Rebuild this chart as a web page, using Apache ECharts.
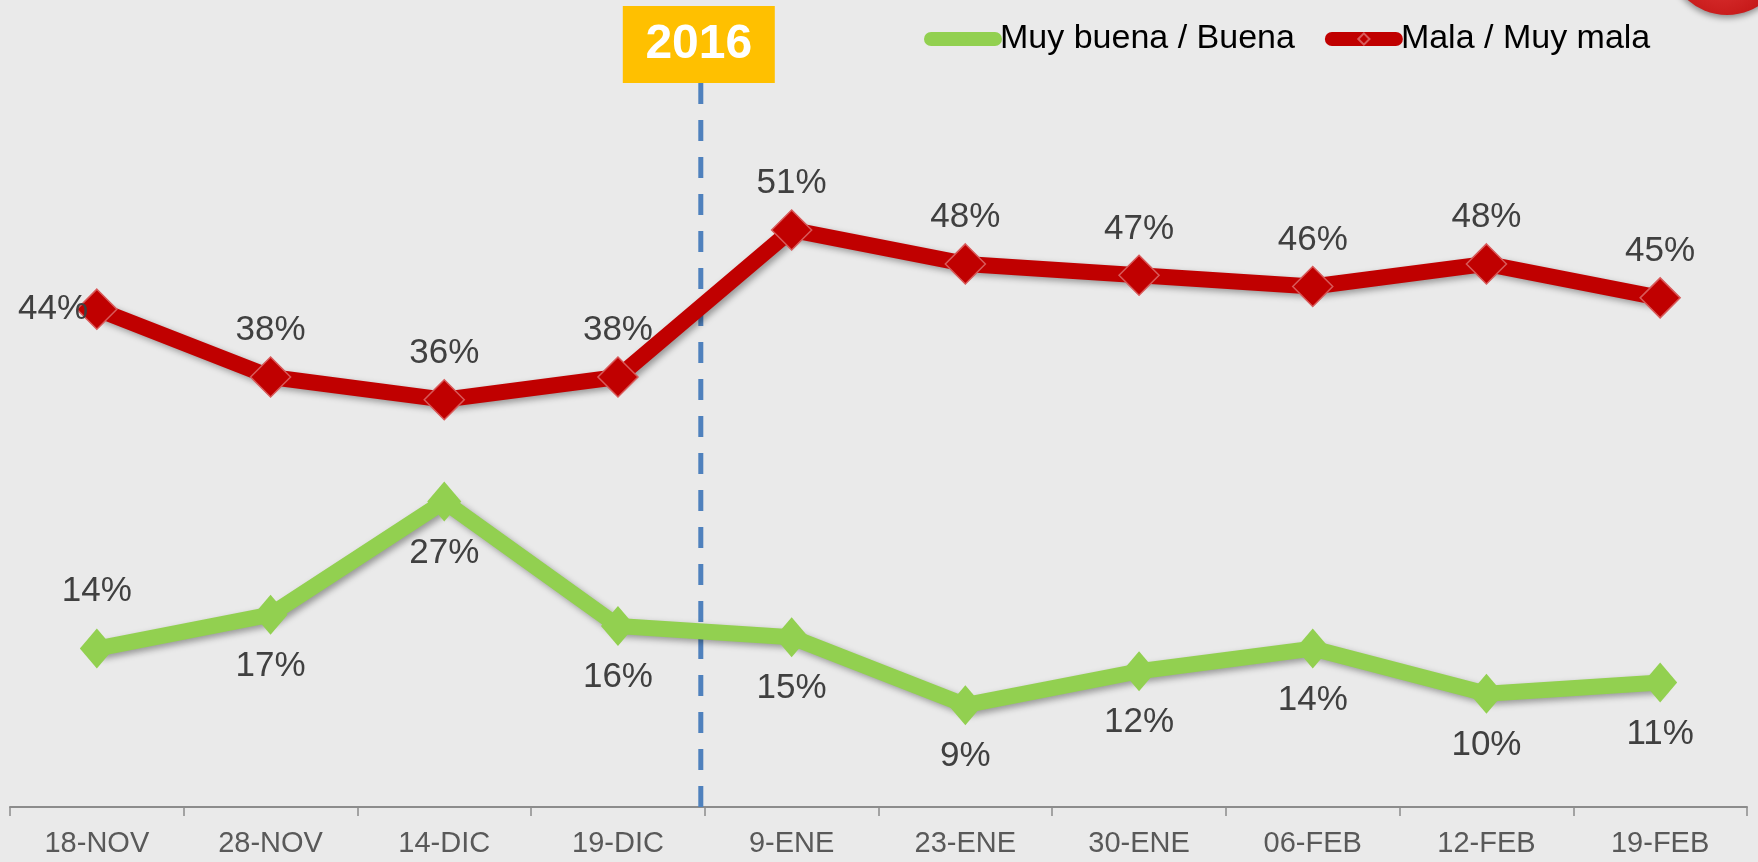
<!DOCTYPE html>
<html>
<head>
<meta charset="utf-8">
<title>Muy buena / Mala</title>
<script src="https://cdn.jsdelivr.net/npm/echarts@6/dist/echarts.min.js"></script>
<style>
  html, body { margin: 0; padding: 0; background: #EAEAEA; }
  #main { width: 1758px; height: 862px; }
</style>
</head>
<body>
<div id="main"></div>
<script>
var categories = ['18-NOV', '28-NOV', '14-DIC', '19-DIC', '9-ENE', '23-ENE', '30-ENE', '06-FEB', '12-FEB', '19-FEB'];
var buena = [14, 17, 27, 16, 15, 9, 12, 14, 10, 11];
var mala = [44, 38, 36, 38, 51, 48, 47, 46, 48, 45];
var yearLabel = '2016';

var FONT = "'Liberation Sans', Arial, sans-serif";
var GREEN = '#92D050';
var RED = '#C00000';

// el primer punto de cada serie lleva la etiqueta en otro sitio
function withFirstLabel(values, label) {
    return values.map(function (v, i) {
        return i === 0 ? {value: v, label: label} : v;
    });
}

var myChart = echarts.init(document.getElementById('main'));

myChart.setOption({
    backgroundColor: '#EAEAEA',
    animation: false,
    grid: {left: 10, right: 11, top: 15, bottom: 55},
    legend: {
        left: 919,
        top: 17,
        itemWidth: 64,
        itemHeight: 14,
        itemGap: 30,
        lineStyle: {width: 14, cap: 'round', shadowBlur: 0, shadowOffsetX: 0, shadowOffsetY: 0},
        textStyle: {fontFamily: FONT, fontSize: 34, color: '#000'},
        data: ['Muy buena / Buena', 'Mala / Muy mala']
    },
    xAxis: {
        type: 'category',
        data: categories,
        axisLine: {lineStyle: {color: '#8C8C8C', width: 2}},
        axisTick: {show: true, length: 9, lineStyle: {color: '#8C8C8C', width: 1.5}},
        axisLabel: {fontFamily: FONT, fontSize: 29, color: '#595959', margin: 22}
    },
    yAxis: {
        type: 'value',
        min: 0,
        max: 70,
        show: false
    },
    series: [{
        name: 'Muy buena / Buena',
        type: 'line',
        data: withFirstLabel(buena, {position: 'top', distance: 20}),
        symbol: 'diamond',
        symbolSize: [34, 40],
        itemStyle: {color: GREEN},
        lineStyle: {
            width: 16, color: GREEN,
            shadowColor: 'rgba(0,0,0,0.35)', shadowBlur: 6, shadowOffsetX: 3, shadowOffsetY: 3
        },
        label: {
            show: true, position: 'bottom', distance: 14,
            fontFamily: FONT, fontSize: 35, color: '#404040',
            formatter: '{c}%'
        },
        z: 3
    }, {
        name: 'Mala / Muy mala',
        type: 'line',
        data: withFirstLabel(mala, {position: 'left', distance: -12}),
        symbol: 'diamond',
        symbolSize: 40,
        itemStyle: {color: RED, borderColor: '#D85A5A', borderWidth: 1.5},
        lineStyle: {
            width: 16, color: RED,
            shadowColor: 'rgba(0,0,0,0.35)', shadowBlur: 6, shadowOffsetX: 3, shadowOffsetY: 3
        },
        label: {
            show: true, position: 'top', distance: 8,
            fontFamily: FONT, fontSize: 35, color: '#404040',
            formatter: '{c}%'
        },
        z: 3
    }]
});

// línea del cambio de año, entre 19-DIC y 9-ENE
var xa = myChart.convertToPixel({xAxisIndex: 0}, categories[3]);
var xb = myChart.convertToPixel({xAxisIndex: 0}, categories[4]);
var bx = (xa + xb) / 2 - 4;
var axisY = myChart.convertToPixel({yAxisIndex: 0}, 0);

myChart.setOption({
    graphic: [{
        type: 'circle',
        shape: {cx: 1727, cy: -44, r: 59},
        style: {
            fill: new echarts.graphic.RadialGradient(0.45, 0.6, 0.6, [
                {offset: 0, color: '#E23A3A'},
                {offset: 0.8, color: '#C41616'},
                {offset: 1, color: '#9E0E0E'}
            ]),
            shadowColor: 'rgba(0,0,0,0.4)', shadowBlur: 6, shadowOffsetY: 3
        },
        z: 1
    }, {
        type: 'line',
        shape: {x1: bx, y1: 83, x2: bx, y2: axisY},
        style: {stroke: '#4F81BD', lineWidth: 5, lineDash: [21, 16]},
        z: 1
    }, {
        type: 'rect',
        shape: {x: bx - 78, y: 6, width: 152, height: 77},
        style: {fill: '#FFC000'},
        z: 5
    }, {
        type: 'text',
        x: bx - 2,
        y: 45,
        style: {
            text: yearLabel,
            fill: '#FFFFFF',
            font: "bold 48px 'Liberation Sans', Arial, sans-serif",
            align: 'center',
            verticalAlign: 'middle'
        },
        z: 6
    }]
});
</script>
</body>
</html>
